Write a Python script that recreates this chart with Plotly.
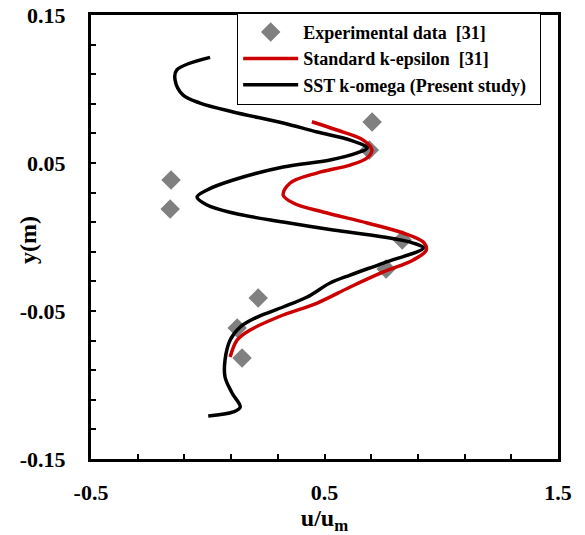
import plotly.graph_objects as go

# Experimental data [31]
exp_u = [0.704, 0.692, -0.157, -0.161, 0.833, 0.764, 0.216, 0.126, 0.147]
exp_y = [0.0777, 0.0588, 0.0385, 0.0189, -0.002, -0.0216, -0.0412, -0.0615, -0.0818]

# Standard k-epsilon [31]
ke_u = [0.446, 0.553, 0.666, 0.703, 0.682, 0.610, 0.467, 0.353, 0.323, 0.366, 0.494,
        0.683, 0.837, 0.923, 0.936, 0.880, 0.752, 0.610, 0.469, 0.323, 0.182, 0.126, 0.096]
ke_y = [0.0779, 0.0723, 0.0655, 0.0588, 0.0534, 0.0486, 0.0432, 0.0365, 0.0284, 0.0230, 0.0169,
        0.0095, 0.0027, -0.0034, -0.0088, -0.0155, -0.0236, -0.0338, -0.0446, -0.0527, -0.0628, -0.0696, -0.0811]

# SST k-omega (present study)
sst_u = [0.010, -0.133, -0.140, -0.106, -0.033, 0.109, 0.323, 0.469, 0.610, 0.683, 0.640, 0.524,
         0.323, 0.109, -0.003, -0.046, -0.003, 0.109, 0.323, 0.537, 0.752, 0.880, 0.923, 0.752,
         0.610, 0.524, 0.426, 0.323, 0.212, 0.139, 0.096, 0.074, 0.074, 0.104, 0.139, 0.109, 0.002]
sst_y = [0.1214, 0.1128, 0.1061, 0.0959, 0.0905, 0.0845, 0.0770, 0.0709, 0.0655, 0.0601, 0.0568, 0.0520,
         0.0473, 0.0385, 0.0318, 0.0270, 0.0216, 0.0162, 0.0101, 0.0047, 0.0000, -0.0041, -0.0074, -0.0176,
         -0.0257, -0.0311, -0.0405, -0.0473, -0.0541, -0.0608, -0.0696, -0.0831, -0.0946, -0.1054, -0.1149, -0.1182, -0.1209]

# Tick labels
x_tickvals = [-0.5, 0.5, 1.5]
x_ticktext = ["-0.5", "0.5", "1.5"]
y_tickvals = [-0.15, -0.05, 0.05, 0.15]
y_ticktext = ["-0.15", "-0.05", "0.05", "0.15"]

FONT = "Liberation Serif"

fig = go.Figure()
fig.add_trace(go.Scatter(x=exp_u, y=exp_y, mode="markers", name="Experimental data  [31]",
                         marker=dict(symbol="diamond", size=15, color="#808080")))
fig.add_trace(go.Scatter(x=ke_u, y=ke_y, mode="lines", name="Standard k-epsilon  [31]",
                         line=dict(color="#cc0000", width=3.5, shape="spline")))
fig.add_trace(go.Scatter(x=sst_u, y=sst_y, mode="lines", name="SST k-omega (Present study)\u00a0\u00a0",
                         line=dict(color="black", width=3.5, shape="spline")))

axis_common = dict(showgrid=False, zeroline=False, showline=True, linecolor="black", linewidth=3,
                   mirror=True, ticks="inside", ticklen=5, tickwidth=2, tickcolor="black",
                   automargin=False,
                   tickfont=dict(family=FONT, size=22, color="black", weight="bold"))

fig.update_xaxes(range=[-0.5, 1.5], tickmode="array", tickvals=x_tickvals, ticktext=x_ticktext,
                 minor=dict(ticks="inside", dtick=0.2, tick0=-0.5, ticklen=5, tickwidth=2, tickcolor="black"),
                 title=dict(text="<b>u/u<sub>m</sub></b>", font=dict(family=FONT, size=24, color="black"), standoff=2),
                 ticklabelstandoff=12, **axis_common)
fig.update_yaxes(range=[-0.15, 0.15], tickmode="array", tickvals=y_tickvals, ticktext=y_ticktext,
                 minor=dict(ticks="inside", dtick=0.02, tick0=-0.15, ticklen=5, tickwidth=2, tickcolor="black"),
                 ticklabelstandoff=18, **axis_common)

fig.add_annotation(text="<b>y(m)</b>", xref="paper", yref="paper", x=-0.135, y=0.493,
                   textangle=-90, showarrow=False, xanchor="center", yanchor="middle",
                   font=dict(family=FONT, size=24, color="black"))

fig.update_layout(width=585, height=535, margin=dict(l=91, r=27, t=15, b=76),
                  plot_bgcolor="white", paper_bgcolor="white", showlegend=True,
                  legend=dict(x=0.313, y=1.005, xanchor="left", yanchor="top",
                              bgcolor="white", bordercolor="black", borderwidth=1,
                              font=dict(family=FONT, size=18, color="black", weight="bold"),
                              tracegroupgap=0, itemwidth=55))

fig.write_html("out.html")
